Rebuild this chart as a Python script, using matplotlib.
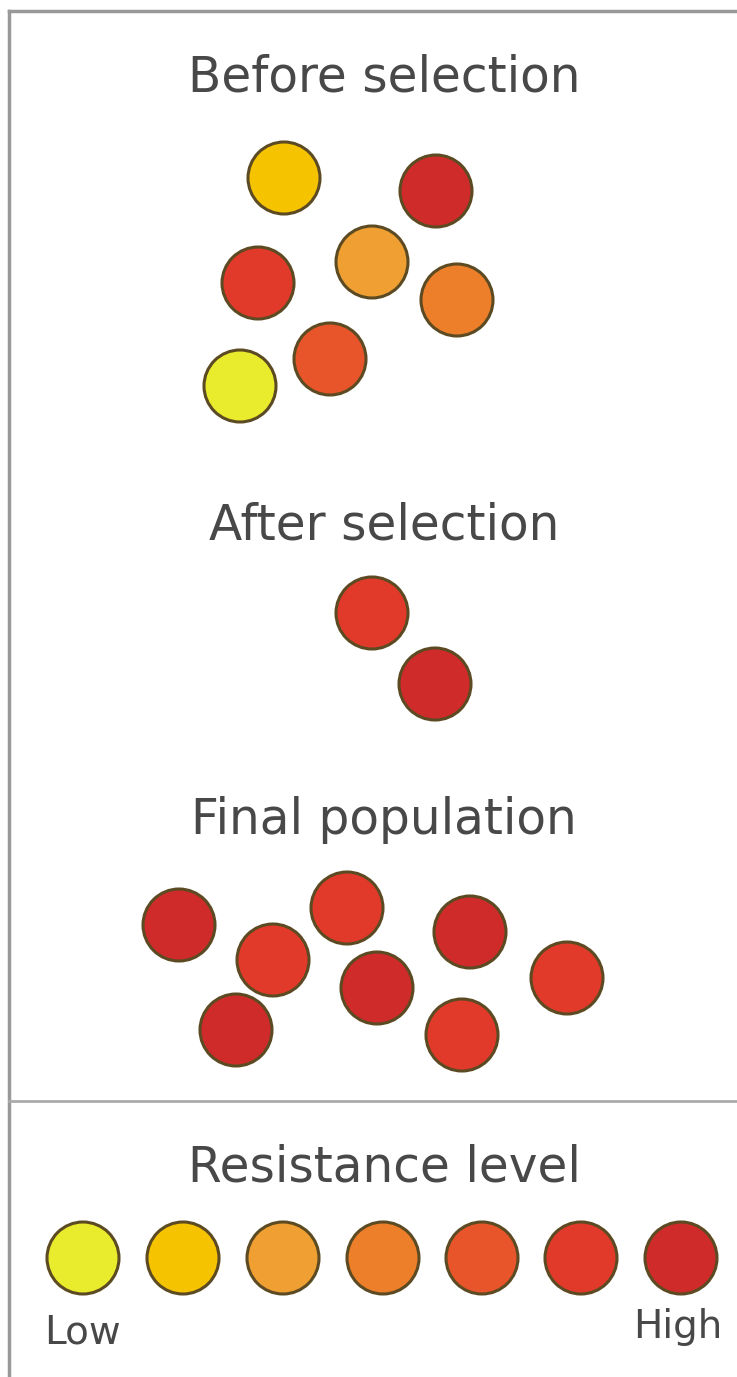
import matplotlib.pyplot as plt
from matplotlib.patches import Circle

# resistance colours, low -> high
level_colors = ["#e9ec2c", "#f6c300", "#f0a032", "#ee7f2a", "#e8552a", "#e13a2b", "#d02b2b"]

# population dots (pixel positions) and their resistance level
before_x = [284, 436, 258, 372, 457, 330, 240]
before_y = [178, 191, 283, 262, 300, 359, 386]
before_lvl = [1, 6, 5, 2, 3, 4, 0]

after_x = [372, 435]
after_y = [613, 684]
after_lvl = [5, 6]

final_x = [179, 273, 347, 236, 377, 470, 567, 462]
final_y = [925, 960, 908, 1030, 988, 932, 978, 1035]
final_lvl = [6, 5, 5, 6, 6, 6, 5, 5]

legend_x = [83, 183, 283, 383, 482, 581, 681]
legend_y = 1258

titles = ["Before selection", "After selection", "Final population", "Resistance level"]
title_y = [78, 525, 820, 1167]

W, H = 737, 1377
fig = plt.figure(figsize=(W / 100, H / 100), dpi=100)
ax = fig.add_axes([0, 0, 1, 1])
ax.set_xlim(0, W)
ax.set_ylim(H, 0)
ax.axis("off")

R = 36
edge = "#5c4a22"

def dots(xs, ys, lvls):
    for x, y, l in zip(xs, ys, lvls):
        ax.add_patch(Circle((x, y), R, facecolor=level_colors[l], edgecolor=edge, lw=2.2))

dots(before_x, before_y, before_lvl)
dots(after_x, after_y, after_lvl)
dots(final_x, final_y, final_lvl)
dots(legend_x, [legend_y] * len(legend_x), range(len(legend_x)))

for t, y in zip(titles, title_y):
    ax.text(384, y, t, ha="center", va="center", fontsize=35, color="#484848")

ax.text(82, 1333, "Low", ha="center", va="center", fontsize=28, color="#484848")
ax.text(678, 1327, "High", ha="center", va="center", fontsize=28, color="#484848")

# frame
ax.plot([9, W], [11, 11], color="#999999", lw=2.5)
ax.plot([9, 9], [11, H], color="#999999", lw=2.5)
ax.plot([9, W], [1101, 1101], color="#aaaaaa", lw=2)

fig.savefig("out.png", dpi=100)
